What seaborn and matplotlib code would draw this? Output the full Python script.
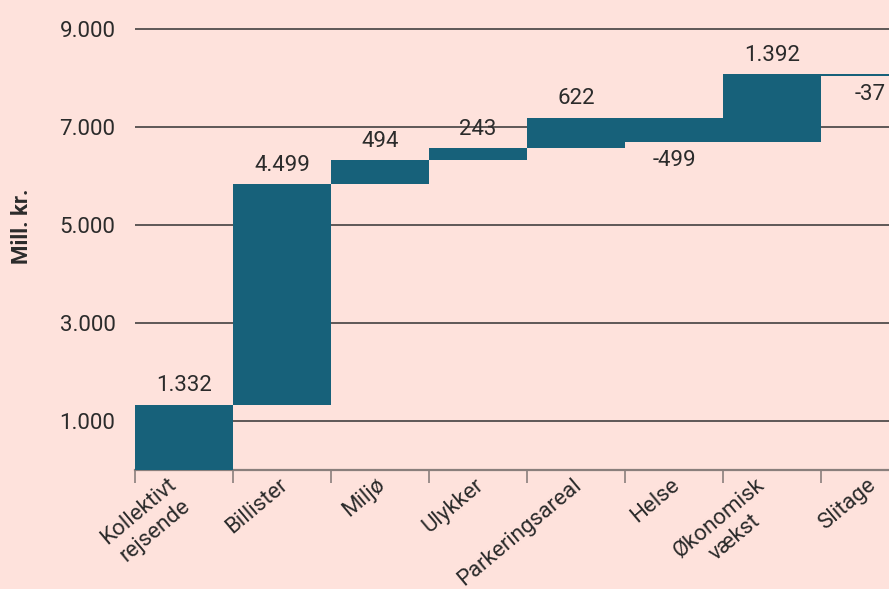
import matplotlib
matplotlib.use("Agg")
import matplotlib.pyplot as plt
import matplotlib.transforms as mtransforms
import seaborn as sns
import numpy as np

categories = ["Kollektivt\nrejsende", "Billister", "Miljø", "Ulykker",
              "Parkeringsareal", "Helse", "Økonomisk\nvækst", "Slitage"]
changes = [1332, 4499, 494, 243, 622, -499, 1392, -37]
yticks = [1000, 3000, 5000, 7000, 9000]
ytick_labels = ["1.000", "3.000", "5.000", "7.000", "9.000"]
ylabel = "Mill. kr."

BG = "#FEE2DC"
BAR = "#17617A"
TXT = "#2b2b2b"
GRID = "#333333"
AXC = "#8a7f7c"

sns.set_theme(style="white")
plt.rcParams["font.family"] = ["Roboto", "DejaVu Sans"]
plt.rcParams["text.color"] = TXT

cum = np.cumsum(changes)
bottoms = np.concatenate([[0], cum[:-1]])

fig = plt.figure(figsize=(8.89, 5.89), dpi=100, facecolor=BG)
ax = fig.add_axes([135 / 889, (589 - 470) / 589, 784 / 889, 470 / 589])
ax.set_facecolor(BG)

sns.barplot(x=categories, y=changes, bottom=bottoms, width=1.0, color=BAR,
            saturation=1, errorbar=None, ax=ax, zorder=3, linewidth=0)

ax.set_ylim(0, 470 / 0.049)
ax.set_xlim(-0.5, len(categories) - 0.5)
ax.set_yticks(yticks)
ax.set_yticklabels(ytick_labels, fontsize=16, color=TXT)
ax.yaxis.grid(True, color=GRID, linewidth=1.1, zorder=1)
ax.set_axisbelow(True)
ax.tick_params(axis="y", length=0, pad=14)

for s in ["top", "right", "left"]:
    ax.spines[s].set_visible(False)
ax.spines["bottom"].set_color(AXC)
ax.spines["bottom"].set_linewidth(1.6)

ax.set_xticks(range(len(categories)))
ax.set_xticklabels(categories, rotation=40, ha="right", va="top",
                   rotation_mode="anchor", fontsize=16, color=TXT,
                   multialignment="center", linespacing=1.25)
ax.set_xticks(np.arange(-0.5, len(categories), 1.0), minor=True)
ax.tick_params(axis="x", which="both", bottom=True)
ax.tick_params(axis="x", which="major", length=0, pad=3)
ax.tick_params(axis="x", which="minor", length=9, width=1.2, color=AXC)
for lab in ax.get_xticklabels():
    dx = -0.17 if "\n" in lab.get_text() else -0.04
    off = mtransforms.ScaledTranslation(dx, 0, fig.dpi_scale_trans)
    lab.set_transform(lab.get_transform() + off)

labels = [f"{v:,}".replace(",", ".") for v in changes]
ax.bar_label(ax.containers[0], labels=labels, padding=6, fontsize=16, color=TXT)

ax.set_ylabel(ylabel, fontsize=16, fontweight="bold", color=TXT)
ax.yaxis.set_label_coords(-(135 - 33) / 784, (470 - 226) / 470)
ax.set_xlabel("")

fig.savefig("out.png", dpi=100, facecolor=BG)
